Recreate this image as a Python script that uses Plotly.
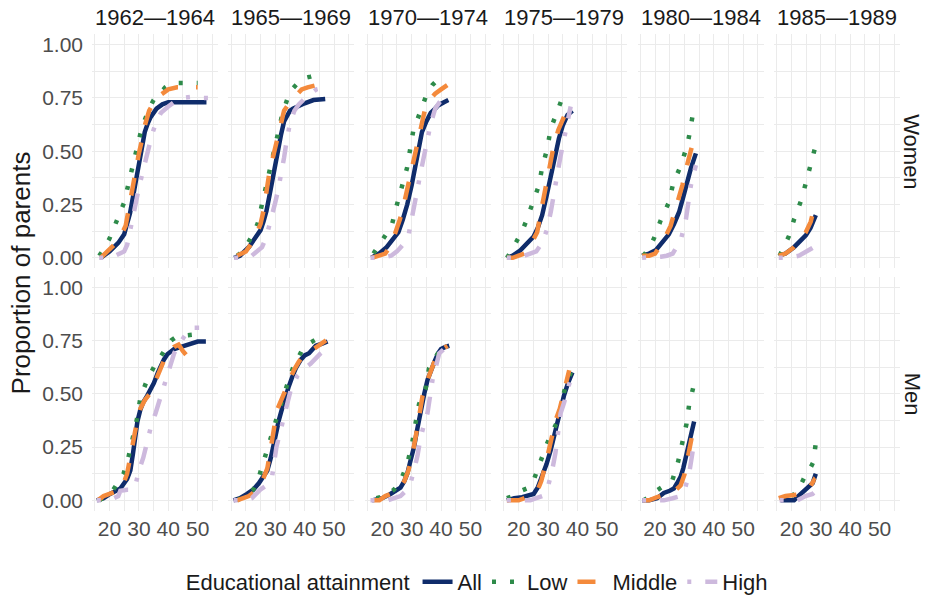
import plotly.graph_objects as go
from plotly.subplots import make_subplots

COHORTS = ["1962\u20141964", "1965\u20141969", "1970\u20141974", "1975\u20141979", "1980\u20141984", "1985\u20141989"]
SEXES = ["Women", "Men"]
GROUPS = ["All", "Low", "Middle", "High"]
X_TICKS = [20, 30, 40, 50]
Y_TICKS = [0, 0.25, 0.5, 0.75, 1.0]
Y_TICK_LABELS = ["0.00", "0.25", "0.50", "0.75", "1.00"]

# ---- Women ----
women_1962 = {
    "All": ([17, 20, 23, 25, 27, 28, 29, 30, 31, 32, 33, 34, 36, 38, 40, 45, 50, 53],
            [0, 0.03, 0.07, 0.11, 0.21, 0.29, 0.38, 0.46, 0.53, 0.59, 0.63, 0.66, 0.70, 0.72, 0.73, 0.73, 0.73, 0.73]),
    "Low": ([16.5, 18, 20, 22.5, 25, 26.5, 28, 29.5, 31, 33.5, 35, 37, 39, 41, 44, 47, 50],
            [0.01, 0.04, 0.09, 0.17, 0.26, 0.35, 0.44, 0.53, 0.61, 0.70, 0.74, 0.77, 0.80, 0.82, 0.82, 0.82, 0.82]),
    "Middle": ([17, 20, 23, 25.5, 27, 28, 29, 30, 31, 32, 33.5, 35, 36, 38, 40, 43, 47, 50],
               [0, 0.04, 0.08, 0.15, 0.27, 0.36, 0.43, 0.49, 0.55, 0.62, 0.69, 0.73, 0.75, 0.77, 0.79, 0.80, 0.80, 0.80]),
    "High": ([16.5, 20, 22, 24, 25, 26, 27, 28, 29, 30, 31, 32, 33, 34.5, 36, 37.5, 40, 42, 45, 48, 51, 53.5],
             [0, 0, 0.01, 0.02, 0.03, 0.06, 0.12, 0.19, 0.26, 0.33, 0.39, 0.45, 0.51, 0.58, 0.64, 0.68, 0.71, 0.73, 0.75, 0.755, 0.75, 0.75]),
}
women_1965 = {
    "All": ([16, 18, 21, 23, 25, 26, 27, 28, 29, 30, 31, 32, 33, 34, 35, 36, 38, 40, 43, 47],
            [0, 0.01, 0.05, 0.09, 0.13, 0.17, 0.22, 0.29, 0.37, 0.45, 0.51, 0.58, 0.64, 0.67, 0.69, 0.70, 0.715, 0.725, 0.74, 0.745]),
    "Low": ([17, 19, 20.5, 22, 24, 25.5, 27, 28, 29.5, 31, 32.5, 34, 35, 37, 39, 42, 44.5],
            [0.01, 0.03, 0.065, 0.10, 0.16, 0.25, 0.36, 0.42, 0.50, 0.59, 0.68, 0.74, 0.78, 0.81, 0.84, 0.85, 0.86]),
    "Middle": ([17, 20, 23, 25, 26, 27, 28, 29, 30, 31, 32, 33, 34, 35.5, 37, 39, 41, 44, 47],
               [0.01, 0.03, 0.09, 0.16, 0.22, 0.32, 0.40, 0.46, 0.52, 0.58, 0.64, 0.69, 0.71, 0.73, 0.76, 0.79, 0.80, 0.81, 0.81]),
    "High": ([16, 19, 22, 24, 25.5, 27, 28, 29, 30, 31, 32, 33, 34, 35, 36.5, 38, 41, 44, 47],
             [0, 0, 0.01, 0.03, 0.05, 0.10, 0.15, 0.20, 0.26, 0.32, 0.39, 0.47, 0.56, 0.63, 0.69, 0.72, 0.76, 0.79, 0.80]),
}
women_1970 = {
    "All": ([16.3, 19, 21.5, 24, 25.5, 27, 28.5, 30, 31, 32, 33.5, 35, 36.5, 38, 39, 41, 42.5],
            [0, 0.02, 0.05, 0.09, 0.12, 0.18, 0.25, 0.34, 0.42, 0.50, 0.59, 0.64, 0.68, 0.70, 0.715, 0.73, 0.74]),
    "Low": ([17, 19.8, 21.5, 23.2, 24.9, 26.6, 28.4, 29.5, 30.6, 32, 33.5, 35.2, 37, 39.2],
            [0.02, 0.08, 0.11, 0.15, 0.245, 0.33, 0.42, 0.51, 0.60, 0.65, 0.71, 0.77, 0.81, 0.84]),
    "Middle": ([16.5, 19, 21, 23, 26, 27.5, 29, 30.5, 32, 33.5, 34.6, 36, 38, 40, 41.6, 42.6],
               [0, 0.01, 0.02, 0.06, 0.18, 0.26, 0.35, 0.44, 0.54, 0.64, 0.70, 0.74, 0.77, 0.79, 0.805, 0.815]),
    "High": ([16, 20, 23, 25, 26.3, 27.5, 29, 30, 31.2, 32.5, 33.5, 35, 36.5, 38, 40, 42],
             [0, 0, 0.01, 0.03, 0.05, 0.07, 0.11, 0.19, 0.28, 0.36, 0.43, 0.53, 0.63, 0.70, 0.74, 0.76]),
}
women_1975 = {
    "All": ([16, 18, 20.6, 23, 25.1, 26.5, 28, 29.5, 31, 32.3, 33.7, 35, 36.6, 38.3],
            [0, 0.01, 0.035, 0.07, 0.10, 0.14, 0.20, 0.29, 0.385, 0.48, 0.56, 0.62, 0.67, 0.69]),
    "Low": ([16, 17.5, 19.4, 21, 22.5, 24.6, 26.9, 28, 29.7, 30.9, 32, 33.2, 34.3, 35.4],
            [0, 0.03, 0.08, 0.12, 0.17, 0.245, 0.34, 0.425, 0.51, 0.605, 0.645, 0.68, 0.72, 0.77]),
    "Middle": ([16, 18, 20, 22, 24, 26.3, 27.5, 29.2, 30.5, 32, 33.5, 34.9, 36, 37.2],
               [0, 0, 0.01, 0.02, 0.06, 0.12, 0.21, 0.34, 0.43, 0.53, 0.60, 0.65, 0.68, 0.715]),
    "High": ([16, 19, 22, 24, 26, 28, 29.7, 31, 32, 33, 34.3, 35.5, 36.6, 37.7],
             [0, 0, 0.01, 0.02, 0.03, 0.07, 0.135, 0.22, 0.31, 0.38, 0.48, 0.56, 0.65, 0.71]),
}
women_1980 = {
    "All": ([15.6, 18, 20.2, 22.5, 24.7, 26.5, 28.2, 29.5, 30.5, 31.5, 32.2, 33.9],
            [0.01, 0.02, 0.035, 0.07, 0.11, 0.16, 0.215, 0.28, 0.34, 0.38, 0.42, 0.49]),
    "Low": ([16, 17.8, 19.6, 21.9, 24.7, 26.2, 28.7, 31, 32, 33.1],
            [0.01, 0.04, 0.09, 0.175, 0.26, 0.35, 0.43, 0.53, 0.60, 0.695]),
    "Middle": ([15.6, 18, 20, 22.5, 25.3, 27, 29.3, 31, 32.8],
               [0.01, 0.01, 0.02, 0.07, 0.15, 0.23, 0.34, 0.44, 0.535]),
    "High": ([15.6, 18, 20, 22, 24, 26, 28.7, 30.5, 32.2, 33.9],
             [0, 0, 0, 0.005, 0.01, 0.02, 0.08, 0.18, 0.34, 0.435]),
}
women_1985 = {
    "All": ([15.7, 18, 20.9, 23, 24.9, 26.5, 28.3],
            [0.01, 0.02, 0.05, 0.08, 0.105, 0.14, 0.20]),
    "Low": ([16, 17.5, 19.1, 20.9, 23.2, 24.9, 26.6, 28.3],
            [0.01, 0.05, 0.10, 0.18, 0.265, 0.35, 0.44, 0.53]),
    "Middle": ([15.7, 18, 20.9, 23, 24.9, 26.6, 27.3],
               [0.01, 0.02, 0.05, 0.08, 0.12, 0.17, 0.21]),
    "High": ([15.7, 19, 22.6, 25.5, 27, 28.8],
             [0, 0, 0.01, 0.03, 0.045, 0.06]),
}

# ---- Men ----
men_1962 = {
    "All": ([15.7, 18, 20.2, 23.7, 26, 27.1, 28, 28.8, 29.5, 30.5, 31.5, 32.8, 34, 35.1, 36.5, 37.4, 38.5, 39.7, 42, 45.4, 48, 50, 52.8],
            [0, 0.01, 0.03, 0.055, 0.10, 0.14, 0.22, 0.30, 0.37, 0.425, 0.46, 0.49, 0.52, 0.55, 0.60, 0.63, 0.66, 0.685, 0.71, 0.725, 0.735, 0.745, 0.745]),
    "Low": ([16.5, 19, 21.3, 23, 24.8, 26.5, 28.2, 29.4, 30.5, 32.8, 35.7, 37.5, 39.1, 41, 43.1, 46, 50.5],
            [0, 0.02, 0.05, 0.09, 0.125, 0.205, 0.30, 0.385, 0.48, 0.565, 0.64, 0.68, 0.715, 0.75, 0.77, 0.775, 0.78]),
    "Middle": ([16, 18, 20, 22, 24, 26, 27, 28.2, 29.5, 30.5, 32, 34, 36.8, 39.1, 42, 43.5, 45, 46.5, 49, 51],
               [0, 0.02, 0.03, 0.04, 0.05, 0.125, 0.20, 0.30, 0.38, 0.43, 0.47, 0.505, 0.60, 0.675, 0.72, 0.73, 0.70, 0.675, 0.68, 0.70]),
    "High": ([15.7, 20, 23, 23.7, 26, 28.2, 29, 30, 31.5, 32.8, 34, 35.7, 37, 38.5, 40, 40.8, 42, 43.1, 45, 46.5, 48, 50.5],
             [0, 0, 0.02, 0.045, 0.05, 0.05, 0.08, 0.14, 0.20, 0.27, 0.34, 0.41, 0.47, 0.535, 0.60, 0.645, 0.69, 0.72, 0.76, 0.79, 0.81, 0.81]),
}
men_1965 = {
    "All": ([15.8, 18, 20.4, 22.5, 24.4, 26, 27.3, 28.5, 29.5, 30.5, 31.3, 32.5, 33.5, 34.5, 35.8, 37, 38.7, 40, 41.5, 43.8, 46, 47.8],
            [0, 0.01, 0.03, 0.05, 0.08, 0.11, 0.14, 0.20, 0.27, 0.33, 0.38, 0.44, 0.49, 0.53, 0.58, 0.62, 0.66, 0.68, 0.69, 0.725, 0.735, 0.745]),
    "Low": ([17, 20, 22.5, 24, 26.2, 27.9, 29.5, 31, 32.5, 34, 36, 39.3, 42, 44.5],
            [0, 0.02, 0.05, 0.09, 0.19, 0.275, 0.34, 0.41, 0.48, 0.54, 0.62, 0.71, 0.74, 0.76]),
    "Middle": ([17, 19, 21, 23, 25, 27.3, 28.5, 29.5, 30.5, 32, 33.5, 35, 36.3, 38, 39.6, 42, 44.3, 47.3],
               [0, 0.01, 0.02, 0.04, 0.07, 0.15, 0.24, 0.33, 0.42, 0.47, 0.52, 0.57, 0.61, 0.65, 0.68, 0.70, 0.72, 0.75]),
    "High": ([15.8, 20, 22, 24.9, 27, 28.9, 30.4, 31.5, 32.6, 34, 35.3, 37.6, 40, 42, 44, 45.5, 47.3],
             [0, 0, 0.01, 0.05, 0.07, 0.11, 0.25, 0.31, 0.38, 0.45, 0.52, 0.585, 0.62, 0.64, 0.67, 0.69, 0.71]),
}
men_1970 = {
    "All": ([16.5, 20, 22.8, 26.2, 27.5, 28.5, 29.5, 30.8, 32, 33.1, 34.3, 35.4, 36.5, 37.6, 39, 40, 41.5, 42.8],
            [0, 0.01, 0.03, 0.06, 0.09, 0.125, 0.18, 0.25, 0.34, 0.425, 0.50, 0.565, 0.61, 0.645, 0.69, 0.71, 0.72, 0.725]),
    "Low": ([18, 21, 24, 26.2, 28.5, 30.2, 31.3, 32.5, 33.5, 34.8, 35.9, 37.5, 39.4, 41],
            [0.01, 0.02, 0.05, 0.09, 0.17, 0.27, 0.36, 0.45, 0.49, 0.525, 0.62, 0.66, 0.70, 0.72]),
    "Middle": ([17, 19, 21, 23, 26, 27.5, 28.9, 30.2, 31.4, 32.5, 33.7, 35, 36.5, 37.5, 38.8, 40.5, 42.2],
               [0, 0, 0.02, 0.03, 0.06, 0.09, 0.14, 0.21, 0.30, 0.40, 0.49, 0.55, 0.61, 0.65, 0.69, 0.71, 0.725]),
    "High": ([16, 19, 22, 24, 26.2, 28.5, 29.8, 30.8, 32, 33.1, 34.3, 35.4, 37.1, 38.3, 39.4, 41, 42.8],
             [0, 0, 0, 0.01, 0.02, 0.05, 0.09, 0.14, 0.21, 0.30, 0.36, 0.41, 0.565, 0.63, 0.69, 0.71, 0.73]),
}
men_1975 = {
    "All": ([16, 18.5, 21.2, 23, 25.1, 26.5, 28, 29.5, 30.9, 32, 33.2, 34.3, 35.4, 36.8, 38.3],
            [0, 0.01, 0.015, 0.02, 0.03, 0.06, 0.11, 0.17, 0.235, 0.30, 0.36, 0.43, 0.49, 0.55, 0.60]),
    "Low": ([16, 18, 20, 21.8, 23.5, 25, 26.5, 28, 29.5, 31, 33.2, 34.5, 36, 37.8],
            [0.01, 0.02, 0.04, 0.05, 0.06, 0.09, 0.15, 0.205, 0.26, 0.31, 0.37, 0.45, 0.54, 0.60]),
    "Middle": ([16, 18, 20, 22, 25, 26.5, 27.7, 29, 30.5, 31.5, 32.7, 34, 35, 36, 37.2],
               [0, 0, 0, 0.01, 0.03, 0.05, 0.09, 0.16, 0.25, 0.31, 0.38, 0.43, 0.49, 0.55, 0.61]),
    "High": ([16, 20, 24, 26, 28, 29.7, 30.5, 31.4, 32.5, 33.5, 34.3, 35.5, 36.6, 38.3],
             [0, 0, 0, 0.01, 0.02, 0.05, 0.09, 0.14, 0.22, 0.33, 0.41, 0.46, 0.51, 0.60]),
}
men_1980 = {
    "All": ([15.6, 18, 20.7, 23, 25, 26.4, 27.5, 28.7, 29.6, 30.5, 31.4, 32.2, 33.3],
            [0, 0, 0.01, 0.035, 0.045, 0.055, 0.08, 0.11, 0.15, 0.205, 0.25, 0.30, 0.37]),
    "Low": ([16, 18.5, 20.7, 23, 25.9, 27.8, 29.3, 30.7, 31.6, 33.1],
            [0, 0.02, 0.047, 0.07, 0.094, 0.178, 0.267, 0.358, 0.448, 0.535]),
    "Middle": ([16, 18, 20.7, 23, 26.4, 28.7, 30, 31, 32.2, 32.7],
               [0, 0, 0.015, 0.025, 0.04, 0.07, 0.12, 0.19, 0.27, 0.31]),
    "High": ([15.6, 20.7, 23, 26, 28.7, 29.9, 30.8, 31.6, 32.8],
             [0, 0, 0, 0.01, 0.02, 0.04, 0.08, 0.125, 0.23]),
}
men_1985 = {
    "All": ([16.3, 19, 20.9, 22, 23.2, 24.5, 25.5, 27.2, 28.3],
            [0, 0, 0, 0.015, 0.03, 0.045, 0.055, 0.08, 0.125]),
    "Low": ([20, 22, 24.5, 26, 27.5, 28.3],
            [0.02, 0.04, 0.11, 0.14, 0.18, 0.27]),
    "Middle": ([15.7, 18, 20.9, 23.8, 26, 27.7, 28],
               [0.01, 0.02, 0.025, 0.03, 0.055, 0.095, 0.09]),
    "High": ([16, 19, 22, 24.8, 27.2, 28.8],
             [0, 0, 0, 0.02, 0.03, 0.05]),
}

PANELS = {
    "Women": [women_1962, women_1965, women_1970, women_1975, women_1980, women_1985],
    "Men": [men_1962, men_1965, men_1970, men_1975, men_1980, men_1985],
}

STYLE = {
    "All": dict(color="#0F2C6B", dash="solid"),
    "Low": dict(color="#2E8B4A", dash="4px,14px"),
    "Middle": dict(color="#F48A3C", dash="18px,18px"),
    "High": dict(color="#CDB9DD", dash="4px,14px,18px,14px"),
}
LINE_W = 4.5
GRID = "#EBEBEB"
FONT = "Liberation Sans"

fig = make_subplots(rows=2, cols=6, horizontal_spacing=0.01275, vertical_spacing=0.0168)

for r, sex in enumerate(SEXES):
    for c in range(6):
        panel = PANELS[sex][c]
        for g in GROUPS:
            ages, vals = panel[g]
            fig.add_trace(go.Scatter(
                x=ages, y=vals, mode="lines", name=g, legendgroup=g,
                showlegend=(r == 0 and c == 0),
                line=dict(color=STYLE[g]["color"], dash=STYLE[g]["dash"], width=LINE_W),
                hoverinfo="skip",
            ), row=r + 1, col=c + 1)

fig.update_xaxes(range=[14.05, 56.95], tickvals=X_TICKS, showgrid=True, gridcolor=GRID, gridwidth=1.2,
                 minor=dict(tickvals=[15, 25, 35, 45, 55], showgrid=True, gridcolor=GRID, gridwidth=0.9),
                 zeroline=False, showline=False, ticks="", automargin=False,
                 tickfont=dict(family=FONT, size=21, color="#4D4D4D"), ticklabelstandoff=3)
fig.update_yaxes(range=[-0.05, 1.05], tickvals=Y_TICKS, ticktext=Y_TICK_LABELS, showgrid=True,
                 gridcolor=GRID, gridwidth=1.2,
                 minor=dict(tickvals=[0.125, 0.375, 0.625, 0.875], showgrid=True, gridcolor=GRID, gridwidth=0.9),
                 zeroline=False, showline=False, ticks="", automargin=False,
                 tickfont=dict(family=FONT, size=21, color="#4D4D4D"), ticklabelstandoff=8)
for c in range(6):
    fig.update_xaxes(showticklabels=False, row=1, col=c + 1)
    if c > 0:
        fig.update_yaxes(showticklabels=False, row=1, col=c + 1)
        fig.update_yaxes(showticklabels=False, row=2, col=c + 1)

annotations = []
for c, name in enumerate(COHORTS):
    xref = "x domain" if c == 0 else f"x{c + 1} domain"
    annotations.append(dict(text=name, xref=xref, x=0.5, yref="paper", y=1.0342, yanchor="middle",
                            xanchor="center", showarrow=False,
                            font=dict(family=FONT, size=22, color="#1A1A1A")))
for r, sex in enumerate(SEXES):
    yref = "y domain" if r == 0 else "y7 domain"
    annotations.append(dict(text=sex, xref="paper", x=1.0149, yref=yref, y=0.5, textangle=90,
                            xanchor="center", yanchor="middle", showarrow=False,
                            font=dict(family=FONT, size=22, color="#1A1A1A")))
annotations.append(dict(text="Proportion of parents", xref="paper", x=-0.088, yref="paper", y=0.5,
                        textangle=-90, xanchor="center", yanchor="middle", showarrow=False,
                        font=dict(family=FONT, size=26, color="#1A1A1A")))

fig.update_layout(
    width=930, height=598,
    margin=dict(l=92, r=30, t=34, b=87, autoexpand=False),
    plot_bgcolor="white", paper_bgcolor="white",
    font=dict(family=FONT, size=20, color="#1A1A1A"),
    annotations=annotations,
    legend=dict(orientation="h", x=0.478, xanchor="center", y=-0.149, yanchor="middle",
                title=dict(text="Educational attainment", side="left", font=dict(family=FONT, size=22)),
                font=dict(family=FONT, size=22, color="#1A1A1A"), itemwidth=30,
                bgcolor="rgba(0,0,0,0)"),
)

fig.write_html("out.html")
